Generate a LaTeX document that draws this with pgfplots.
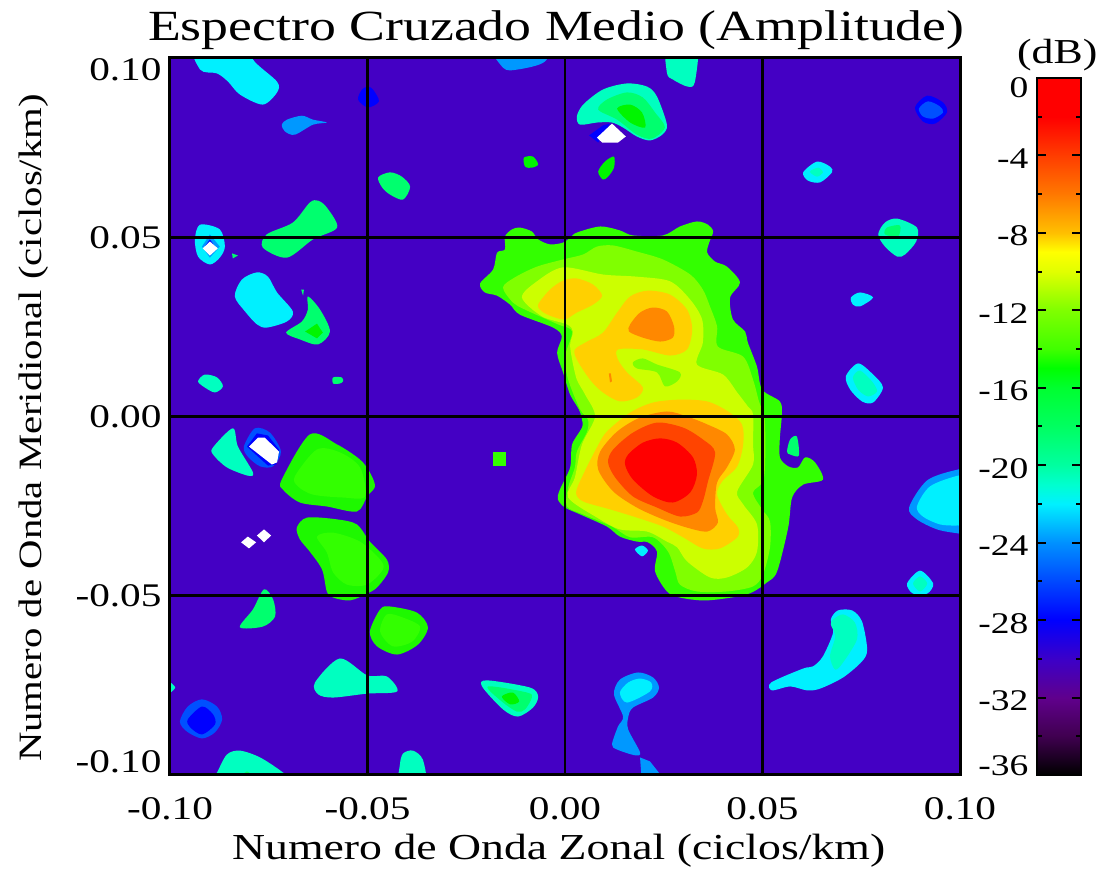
\documentclass[border=0pt]{standalone}
\usepackage{fontspec}
\setmainfont{Liberation Serif}[FakeStretch=1.25]
\usepackage{pgfplots}
\pgfplotsset{compat=1.18}

\definecolor{cBg}{RGB}{68,0,196}
\definecolor{cBlue}{RGB}{0,0,255}
\definecolor{cAzure}{RGB}{0,80,255}
\definecolor{cSky}{RGB}{0,152,255}
\definecolor{cCyan}{RGB}{0,240,255}
\definecolor{cAqua}{RGB}{0,255,192}
\definecolor{cSpring}{RGB}{0,255,110}
\definecolor{cGreen}{RGB}{0,245,0}
\definecolor{cGreenB}{RGB}{30,248,0}
\definecolor{cLime}{RGB}{51,255,0}
\definecolor{cChart}{RGB}{128,255,0}
\definecolor{cYell}{RGB}{204,255,0}
\definecolor{cGold}{RGB}{255,208,0}
\definecolor{cOrange}{RGB}{255,136,0}
\definecolor{cROrange}{RGB}{255,68,0}
\definecolor{cRed}{RGB}{255,0,0}

\pgfplotsset{
  blob/.style={fill=#1,draw=none,smooth cycle,tension=0.5,forget plot},
  poly/.style={fill=#1,draw=none,forget plot},
}
% tick label with its vertical offset from the tick
\newcommand{\tl}[2]{\raisebox{\dimexpr#1-11pt\relax}[0pt][0pt]{#2}}

\begin{document}
\begin{tikzpicture}
\path[use as bounding box] (0pt,0pt) rectangle (1104pt,869pt);

% contour map, coordinates in 10^-3 ciclos/km
\begin{axis}[
    at={(170pt,94pt)}, anchor=south west,
    scale only axis, width=790pt, height=717pt,
    xmin=-100, xmax=100, ymin=-100, ymax=100,
    xtick={-100,-50,0,50,100},
    ytick={-100,-50,0,50,100},
    xticklabels={-0.10,-0.05,0.00,0.05,0.10},
    yticklabels={\tl{13pt}{-0.10},\tl{0pt}{-0.05},\tl{0pt}{0.00},\tl{0pt}{0.05},\tl{-12pt}{0.10}},
    tick label style={font=\fontsize{33}{36}\selectfont},
    xticklabel style={yshift=-19pt},
    yticklabel style={xshift=-5pt},
    major tick length=0pt,
    grid=major,
    major grid style={black,line width=2.8pt},
    axis line style={black,line width=3pt},
    axis on top,
    axis background/.style={fill=cBg},
    title={Espectro Cruzado Medio (Amplitude)},
    title style={at={(axis description cs:0.489,1.03)},anchor=center,yshift=0pt,font=\fontsize{43}{46}\selectfont},
    xlabel={Numero de Onda Zonal (ciclos/km)},
    xlabel style={at={(axis description cs:0.492,-0.105)},anchor=center,font=\fontsize{36.6}{38}\selectfont},
    ylabel={Numero de Onda Meridional (ciclos/km)},
    ylabel style={at={(axis description cs:-0.173,0.484)},anchor=center,font=\fontsize{32.6}{36}\selectfont},
]
% central blob
\addplot[blob=cLime] coordinates {(-15.2,50.2)(-13.4,52.2)(-11.4,52.7)(-8.4,51.6)(-6.8,49.4)(-3.8,48.0)(-0.5,48.5)(1.3,49.9)(3.0,51.3)(8.9,53.0)(13.9,51.9)(17.2,50.5)(24.8,50.5)(29.1,53.0)(33.4,54.4)(36.2,53.5)(37.5,51.6)(36.5,48.5)(36.0,45.7)(38.0,43.2)(41.0,41.8)(44.3,37.4)(41.8,33.2)(42.5,27.1)(45.6,23.7)(46.3,20.6)(48.6,13.9)(49.9,7.5)(54.4,4.2)(54.9,0.6)(54.4,-5.9)(54.4,-11.4)(56.5,-13.9)(59.0,-14.2)(60.8,-11.4)(63.3,-12.8)(65.3,-17.6)(60.3,-19.0)(57.5,-22.6)(56.5,-31.0)(53.7,-43.2)(51.1,-46.3)(46.1,-49.6)(36.0,-51.3)(29.1,-50.5)(25.8,-48.8)(22.8,-43.2)(23.3,-37.7)(21.0,-35.1)(18.2,-34.9)(13.9,-33.5)(10.6,-30.7)(3.8,-27.3)(0,-25.4)(-1.8,-23.1)(-1.3,-20.4)(1.3,-14.2)(1.8,-7.8)(4.3,-3.1)(4.3,-0.8)(3.5,2.0)(1.3,6.1)(-0.5,12.3)(-2.0,17.8)(-0.8,22.3)(-3.0,24.8)(-11.4,28.4)(-13.9,31.2)(-17.2,33.7)(-20.3,34.6)(-21.5,37.1)(-18.2,41.0)(-17.2,45.7)(-15.2,46.6)};
\addplot[blob=cChart] coordinates {(-15.7,36.0)(-12.7,38.8)(-7.1,41.8)(-0.5,43.8)(4.6,45.2)(8.1,47.4)(12.2,47.7)(18.2,46.0)(24.8,43.8)(31.7,39.6)(34.9,35.4)(36.7,30.7)(38.5,25.1)(38.7,19.5)(45.1,16.7)(47.6,10.3)(49.1,4.2)(50.6,-1.4)(50.4,-17.0)(47.6,-21.2)(49.9,-25.9)(51.9,-29.3)(51.9,-36.5)(50.1,-44.1)(47.6,-47.4)(41.0,-48.8)(33.4,-48.8)(29.1,-46.9)(27.9,-43.2)(26.1,-37.7)(22.3,-33.7)(16.5,-33.7)(11.9,-30.7)(4.6,-27.3)(0.5,-25.1)(0.8,-19.8)(2.5,-14.2)(3.0,-9.8)(5.6,-4.2)(5.8,-0.8)(3.8,2.0)(0.8,10.3)(0,16.7)(1.8,23.7)(-1.8,25.7)(-10.1,29.8)(-13.2,31.8)};
\addplot[blob=cYell] coordinates {(-10.9,33.2)(-7.1,37.7)(-0.5,41.6)(9.6,39.6)(18.2,39.0)(26.6,37.7)(31.7,32.6)(34.7,27.1)(34.9,20.6)(33.4,14.5)(40.0,11.7)(43.6,6.7)(46.3,2.8)(47.6,0.6)(47.6,-7.8)(47.6,-13.4)(43.6,-20.9)(45.1,-24.5)(48.6,-30.1)(48.6,-37.7)(46.1,-42.1)(41.0,-44.9)(36.7,-44.9)(30.9,-40.4)(28.4,-36.5)(25.8,-34.9)(20.8,-32.1)(13.9,-31.5)(8.1,-28.2)(0.8,-22.6)(2.5,-17.0)(4.3,-7.8)(7.6,0)(5.1,6.1)(3.0,10.3)(1.8,15.9)(1.3,20.1)(2.0,23.7)(0.5,25.7)(-5.8,27.9)};
\addplot[blob=cChart] coordinates {(17.2,15.1)(19.7,16.2)(23.3,14.5)(29.1,12.3)(28.4,9.8)(25.3,8.4)(23.3,12.3)(18.2,13.4)};
\addplot[blob=cGold] coordinates {(-6.8,31.2)(-3.8,35.4)(-0.5,37.9)(3.0,38.5)(7.1,36.8)(9.4,33.7)(7.1,31.2)(3.0,29.0)(0,27.1)(-3.3,27.9)(-5.8,29.3)};
\addplot[blob=cGold] coordinates {(21.0,35.1)(26.6,34.0)(30.9,29.8)(32.2,24.3)(30.9,18.7)(26.6,17.0)(19.7,18.7)(13.4,18.7)(13.4,15.9)(15.7,12.3)(19.7,8.1)(18.2,5.3)(13.9,4.2)(9.6,6.7)(6.3,10.3)(3.0,15.9)(2.5,18.7)(5.6,20.9)(9.6,23.4)(13.2,29.0)(16.5,33.5)};
\addplot[blob=cOrange] coordinates {(16.5,25.7)(19.0,29.0)(22.3,30.4)(25.8,29.3)(27.6,25.1)(27.3,22.0)(24.1,20.9)(19.7,22.0)(16.2,23.7)};
\addplot[poly=cOrange] coordinates {(11.1,12.0)(11.6,12.0)(11.9,9.8)(11.4,9.5)} --cycle;
\addplot[blob=cGold] coordinates {(16.5,1.1)(22.3,3.9)(29.1,4.7)(36.0,4.2)(41.3,1.4)(44.8,-2.2)(45.1,-7.8)(43.6,-13.9)(39.8,-18.1)(38.5,-21.8)(41.0,-27.3)(43.8,-31.0)(43.6,-33.7)(39.2,-36.8)(34.9,-36.8)(29.9,-33.7)(24.8,-30.7)(18.2,-28.2)(11.4,-25.9)(4.6,-23.7)(2.8,-21.2)(4.6,-16.2)(8.1,-8.6)(10.6,-4.2)};
\addplot[blob=cOrange] coordinates {(13.2,-4.2)(19.0,-0.3)(25.8,1.4)(30.9,0)(36.0,-2.2)(41.0,-5.0)(43.0,-9.2)(41.0,-14.2)(38.5,-18.4)(38.0,-25.4)(38.7,-29.6)(36.0,-32.1)(30.9,-31.0)(24.8,-28.7)(18.2,-25.4)(12.2,-20.9)(8.4,-14.8)(8.9,-9.8)};
\addplot[blob=cROrange] coordinates {(12.2,-9.2)(17.2,-4.5)(23.3,-1.7)(29.9,-3.1)(34.9,-6.4)(38.0,-10.0)(36.2,-18.1)(34.9,-23.7)(33.4,-26.8)(29.1,-27.9)(23.3,-25.4)(17.2,-22.3)(12.7,-17.0)(10.9,-12.8)};
\addplot[blob=cRed] coordinates {(16.0,-10.6)(19.7,-7.3)(24.1,-6.1)(28.4,-7.3)(32.4,-11.4)(33.4,-16.2)(31.7,-21.2)(27.3,-24.0)(22.3,-22.3)(17.2,-17.6)(15.2,-13.4)};
\addplot[blob=cCyan] coordinates {(17.7,-37.1)(19.5,-36.0)(21.0,-37.4)(19.5,-39.0)};
\addplot[blob=cSpring] coordinates {(56.2,-9.8)(57.0,-6.4)(58.7,-5.6)(59.2,-10.9)(57.0,-10.6)};
% upper left
\addplot[blob=cCyan] coordinates {(-94.2,105)(-92.4,96.8)(-88.1,95.7)(-85.3,93.4)(-82.3,89.8)(-76.5,87.0)(-72.9,90.4)(-72.9,93.4)(-79.0,99.6)(-79.0,105)};
\addplot[blob=cSky] coordinates {(-71.7,81.4)(-70.4,82.8)(-66.6,83.9)(-63.8,82.8)(-60.3,82.0)(-63.8,81.4)(-68.4,78.6)(-70.9,79.5)};
\addplot[blob=cBlue] coordinates {(-52.4,88.4)(-51.4,91.2)(-49.9,92.0)(-48.6,91.2)(-47.1,87.9)(-49.9,86.2)};
\addplot[blob=cSpring] coordinates {(-47.3,66.7)(-44.3,68.1)(-41.3,66.9)(-39.2,64.1)(-41.0,60.5)(-44.3,61.9)(-46.3,63.9)};
\addplot[blob=cSpring] coordinates {(-64.6,59.7)(-62.5,60.2)(-60.3,58.3)(-57.7,52.7)(-63.8,49.4)(-70.4,44.3)(-76.5,47.1)(-75.5,50.8)(-68.9,54.1)};
\addplot[blob=cCyan] coordinates {(-93.7,49.4)(-92.4,53.5)(-87.4,52.2)(-86.1,47.4)(-87.4,44.3)(-89.9,42.4)(-92.9,44.6)};
\addplot[poly=cSky] coordinates {(-91.9,47.4)(-89.9,50.8)(-87.4,47.4)(-89.9,44.3)} --cycle;
\addplot[poly=cBlue] coordinates {(-91.2,47.4)(-89.9,49.4)(-88.6,47.4)(-89.9,45.2)} --cycle;
\addplot[poly=white] coordinates {(-91.7,46.9)(-89.9,48.8)(-87.9,46.9)(-89.9,44.9)} --cycle;
\addplot[poly=cSpring] coordinates {(-84.3,45.5)(-82.8,44.9)(-84.1,44.1)} --cycle;
\addplot[blob=cCyan] coordinates {(-83.6,33.5)(-81.8,38.2)(-78.0,40.2)(-75.2,39.0)(-72.9,34.6)(-68.9,29.3)(-70.4,26.5)(-75.5,24.8)(-78.0,25.7)(-81.0,29.3)};
\addplot[poly=cSpring] coordinates {(-66.8,35.4)(-66.1,35.4)(-66.3,33.7)} --cycle;
\addplot[blob=cSpring] coordinates {(-65.1,33.5)(-62.0,29.8)(-59.5,23.7)(-62.5,20.1)(-67.1,21.5)(-70.6,23.4)(-66.6,26.5)(-65.1,29.8)};
\addplot[poly=cGreen] coordinates {(-65.8,23.7)(-62.8,25.9)(-61.3,23.4)(-62.8,21.8)} --cycle;
\addplot[blob=cAqua] coordinates {(-92.9,9.8)(-91.2,11.7)(-88.1,10.9)(-86.6,8.4)(-88.6,6.7)(-91.2,8.1)};
\addplot[blob=cSpring] coordinates {(-58.7,10.9)(-56.5,10.9)(-56.2,9.8)(-57.0,9.2)(-58.7,9.2)};
% lower left
\addplot[blob=cAqua] coordinates {(-89.1,-8.6)(-84.1,-3.3)(-82.8,-8.4)(-79.0,-15.6)(-80.3,-16.5)(-85.6,-14.2)(-89.1,-10.6)};
\addplot[blob=cAzure] coordinates {(-81.3,-8.4)(-78.5,-3.3)(-74.7,-4.5)(-71.9,-9.8)(-73.9,-13.9)(-77.2,-13.9)(-80.3,-11.2)};
\addplot[poly=cBlue] coordinates {(-80.5,-8.4)(-78.0,-4.7)(-75.2,-5.3)(-72.4,-9.2)(-73.1,-13.4)(-75.2,-13.7)} --cycle;
\addplot[poly=white] coordinates {(-80.0,-8.4)(-77.7,-5.9)(-76.0,-5.9)(-72.4,-9.8)(-72.9,-12.8)(-74.2,-13.4)} --cycle;
\addplot[poly=white] coordinates {(-82.0,-35.1)(-80.3,-33.5)(-78.2,-35.1)(-80.0,-36.8)} --cycle;
\addplot[poly=white] coordinates {(-78.0,-33.2)(-76.2,-31.5)(-74.4,-33.2)(-76.2,-35.1)} --cycle;
\addplot[blob=cGreenB] coordinates {(-71.7,-17.6)(-64.6,-5.0)(-57.7,-7.8)(-51.9,-12.0)(-49.4,-15.6)(-48.1,-19.5)(-50.1,-22.3)(-52.7,-26.5)(-60.3,-25.1)(-67.1,-24.0)(-71.4,-20.4)};
\addplot[blob=cLime] coordinates {(-68.4,-16.7)(-62.8,-9.2)(-57.0,-10.0)(-51.9,-14.2)(-50.6,-22.3)(-56.2,-22.6)(-63.8,-21.8)(-67.6,-19.5)};
\addplot[blob=cGreenB] coordinates {(-67.9,-31.0)(-65.3,-28.2)(-57.7,-28.7)(-52.7,-30.1)(-49.4,-34.9)(-45.1,-39.9)(-44.8,-43.5)(-47.6,-47.7)(-50.1,-49.4)(-54.4,-51.3)(-58.7,-50.5)(-60.3,-48.8)(-61.5,-42.7)(-64.6,-37.7)(-67.1,-34.3)};
\addplot[blob=cLime] coordinates {(-62.8,-33.5)(-58.7,-32.4)(-51.9,-34.9)(-46.8,-39.9)(-46.1,-42.7)(-50.1,-46.9)(-55.2,-46.9)(-58.7,-43.5)(-60.3,-37.9)};
\addplot[blob=cSpring] coordinates {(-76.2,-48.2)(-73.9,-51.0)(-73.4,-55.8)(-76.5,-58.6)(-82.3,-58.8)(-79.0,-53.8)};
\addplot[blob=cGreenB] coordinates {(-49.4,-60.0)(-46.8,-53.8)(-44.3,-53.0)(-37.5,-54.7)(-34.7,-58.8)(-37.2,-63.6)(-42.5,-66.4)(-47.6,-64.1)};
\addplot[blob=cLime] coordinates {(-46.8,-60.0)(-45.1,-55.2)(-41.0,-56.1)(-36.7,-58.6)(-38.7,-62.8)(-43.6,-64.1)};
\addplot[blob=cAqua] coordinates {(-63.3,-74.2)(-57.0,-67.5)(-50.1,-72.2)(-45.1,-72.5)(-42.5,-76.7)(-50.1,-77.3)(-58.7,-78.4)(-62.5,-77.5)};
\addplot[blob=cAqua] coordinates {(-102.5,-72.8)(-98.7,-75.6)(-102.5,-78.4)};
\addplot[blob=cAzure] coordinates {(-97.5,-85.1)(-95.5,-80.9)(-91.9,-78.9)(-88.1,-80.9)(-86.8,-84.5)(-88.6,-88.1)(-91.9,-89.8)(-95.7,-87.9)};
\addplot[blob=cBlue] coordinates {(-95.5,-84.5)(-91.9,-80.9)(-89.1,-83.1)(-88.6,-85.9)(-91.9,-88.7)(-94.9,-86.7)};
\addplot[blob=cAqua] coordinates {(-89.9,-102.6)(-88.1,-99.3)(-85.6,-94.3)(-82.3,-93.2)(-77.2,-95.1)(-71.4,-99.3)(-68.4,-102.6)};
\addplot[poly=cSpring] coordinates {(-82.3,-100.1)(-80.5,-99)(-78.7,-100.1)} --cycle;
\addplot[blob=cAqua] coordinates {(-41.8,-102.6)(-41.8,-97.1)(-41.0,-94.0)(-38.5,-93.2)(-36.0,-95.7)(-35.4,-102.6)};
% top centre
\addplot[blob=cSky] coordinates {(-19.0,105)(-15.7,97.3)(-11.9,96.8)(-5.1,99.0)(-3.8,105)};
\addplot[blob=cAqua] coordinates {(25.8,105)(25.8,95.9)(27.3,94.0)(31.1,92.0)(32.9,93.4)(33.4,105)};
\addplot[blob=cAqua] coordinates {(3.0,83.7)(4.6,87.0)(9.6,91.2)(15.7,92.9)(20.8,92.0)(23.3,89.2)(25.8,81.4)(24.6,78.6)(21.5,77.0)(18.2,78.1)(14.7,80.6)(11.9,82.0)(8.1,82.0)(3.8,81.4)};
\addplot[blob=cSpring] coordinates {(8.4,85.6)(10.6,88.4)(15.7,90.4)(19.7,89.0)(22.8,84.8)(25.3,80.6)(22.0,77.5)(18.2,78.6)(13.2,82.8)};
\addplot[blob=cGreen] coordinates {(13.2,85.9)(16.5,87.0)(19.5,84.8)(20.3,80.6)(16.5,82.0)};
\addplot[poly=cBlue] coordinates {(6.1,78.4)(9.6,81.2)(11.4,81.7)(8.4,76.4)} --cycle;
\addplot[poly=white] coordinates {(8.1,77.8)(11.9,81.7)(15.4,78.1)(13.4,76.4)(9.4,76.4)} --cycle;
\addplot[blob=cGreen] coordinates {(-10.4,72.2)(-8.1,72.5)(-6.8,70.3)(-8.4,69.4)(-10.1,69.7)};
\addplot[blob=cGreen] coordinates {(8.4,68.3)(10.1,71.1)(12.4,72.5)(12.4,69.4)(10.9,66.9)(9.6,66.1)};
\addplot[poly=cLime] coordinates {(-18.2,-9.8)(-14.9,-9.8)(-14.9,-13.7)(-18.2,-13.7)} --cycle;
% right side
\addplot[blob=cBlue] coordinates {(88.6,86.2)(91.7,89.5)(95.7,87.6)(96.7,84.8)(93.7,81.7)(90.6,82.3)};
\addplot[blob=cAzure] coordinates {(89.6,85.9)(91.9,87.9)(94.9,86.5)(95.7,84.8)(93.2,83.1)(90.6,83.7)};
\addplot[blob=cCyan] coordinates {(60.3,68.1)(63.8,71.1)(67.1,69.7)(67.6,68.1)(64.6,65.3)(61.5,65.8)};
\addplot[blob=cAqua] coordinates {(62.0,68.3)(64.1,69.4)(65.3,68.1)(63.8,66.9)};
\addplot[blob=cAqua] coordinates {(79.3,50.8)(81.0,54.1)(84.1,55.2)(89.1,52.7)(88.9,48.8)(86.1,45.2)(84.1,44.6)(81.0,47.4)};
\addplot[blob=cSpring] coordinates {(81.0,50.8)(81.5,52.7)(84.8,53.3)(84.3,50.2)};
\addplot[blob=cCyan] coordinates {(72.4,33.2)(74.7,34.6)(78.0,33.2)(74.7,30.7)(72.9,31.2)};
\addplot[blob=cCyan] coordinates {(71.1,11.2)(74.2,14.8)(78.0,11.7)(80.5,8.1)(78.0,3.9)(75.2,4.2)(72.2,7.5)};
\addplot[blob=cAqua] coordinates {(72.9,10.9)(74.7,12.8)(77.7,9.8)(79.0,7.0)(76.7,5.6)(74.2,7.5)};
\addplot[blob=cSky] coordinates {(87.1,-25.4)(91.7,-17.8)(99.5,-14.8)(103.8,-14.8)(103.8,-32.9)(99.5,-32.6)(94.2,-31.5)(89.1,-28.7)};
\addplot[blob=cCyan] coordinates {(89.1,-25.1)(92.4,-19.5)(99.5,-16.5)(103.8,-16.5)(103.8,-29.8)(99.5,-30.4)(94.9,-30.1)(90.6,-27.9)};
\addplot[blob=cCyan] coordinates {(86.6,-46.6)(89.9,-43.0)(93.2,-46.6)(91.7,-49.4)(88.1,-49.4)};
\addplot[blob=cAqua] coordinates {(88.1,-46.6)(89.9,-44.6)(91.7,-46.6)(89.9,-48.8)};
% bottom centre and right
\addplot[blob=cSky] coordinates {(12.4,-77.5)(13.9,-73.4)(18.5,-71.4)(22.3,-72.8)(23.8,-75.6)(22.3,-78.4)(17.2,-81.2)(16.0,-83.9)(16.0,-87.3)(19.0,-93.7)(17.7,-94.5)(13.2,-92.9)(11.9,-91.5)(13.4,-86.5)(14.7,-83.7)};
\addplot[blob=cCyan] coordinates {(13.9,-77.0)(16.0,-74.2)(19.0,-73.1)(21.8,-74.2)(21.5,-76.7)(15.7,-79.8)};
\addplot[poly=cSky] coordinates {(19.0,-95.1)(21.5,-96.2)(26.1,-102.6)(19.5,-102.6)} --cycle;
\addplot[blob=cCyan] coordinates {(52.2,-74.2)(60.3,-70.3)(62.8,-69.7)(65.3,-66.9)(67.9,-60.2)(67.3,-56.6)(69.1,-54.1)(72.7,-54.1)(75.2,-57.2)(76.5,-65.0)(75.2,-68.3)(70.4,-72.8)(64.6,-75.9)(61.3,-76.4)(57.0,-75.3)(52.4,-76.4)};
\addplot[blob=cAqua] coordinates {(67.9,-56.6)(70.4,-55.2)(73.4,-57.5)(73.9,-62.2)(70.4,-68.6)(68.4,-70.6)(67.1,-66.9)(68.4,-61.4)(67.3,-58.0)};
\addplot[blob=cAqua] coordinates {(-21.0,-75.3)(-19.7,-73.6)(-8.9,-75.6)(-6.8,-78.1)(-8.1,-81.2)(-11.9,-83.7)(-15.7,-81.7)};
\addplot[blob=cSpring] coordinates {(-19.5,-75.3)(-9.6,-77.0)(-8.4,-78.4)(-10.1,-81.7)(-12.2,-82.3)(-16.0,-79.5)};
\addplot[blob=cGreen] coordinates {(-16.0,-78.1)(-13.2,-77.0)(-11.6,-79.5)(-13.9,-80.3)};
\end{axis}

% colour bar
\begin{axis}[
    at={(1037pt,94pt)}, anchor=south west,
    scale only axis, width=44pt, height=697pt,
    xmin=0, xmax=1, ymin=-36, ymax=0,
    xtick=\empty,
    ytick={-36,-32,-28,-24,-20,-16,-12,-8,-4,0},
    yticklabels={\tl{10pt}{-36},\tl{-2pt}{-32},\tl{-2pt}{-28},\tl{-2pt}{-24},\tl{-2pt}{-20},\tl{-2pt}{-16},\tl{-2pt}{-12},\tl{-2pt}{-8},\tl{-2pt}{-4},\tl{-9pt}{0}},
    minor ytick={-34,-30,-26,-22,-18,-14,-10,-6,-2},
    tick label style={font=\fontsize{30}{34}\selectfont},
    yticklabel style={xshift=-5pt},
    ytick pos=both, yticklabel pos=left,
    tick align=inside,
    major tick length=9pt, minor tick length=5pt,
    tick style={black,line width=2pt},
    axis line style={black,line width=2.6pt},
    axis on top,
    title={(dB)},
    title style={at={(axis description cs:0.46,1.024)},anchor=center,yshift=0pt,font=\fontsize{35}{38}\selectfont},
    colormap={idl}{
      rgb255(0)=(0,0,0) rgb255(2)=(64,0,80) rgb255(4)=(96,0,140) rgb255(6)=(60,0,200)
      rgb255(8)=(0,0,255) rgb255(12)=(0,144,255) rgb255(14)=(0,240,255) rgb255(15)=(0,255,208)
      rgb255(16)=(0,255,160) rgb255(18)=(0,255,96) rgb255(20)=(0,255,48) rgb255(21)=(0,255,0)
      rgb255(22)=(64,255,0) rgb255(24)=(128,255,0) rgb255(26)=(224,255,0) rgb255(27)=(255,255,0)
      rgb255(28)=(255,192,0) rgb255(30)=(255,120,0) rgb255(32)=(255,60,0) rgb255(34)=(255,0,0)
      rgb255(36)=(255,0,0)
    },
]
\addplot[surf,shader=interp,point meta=y,point meta min=-36,point meta max=0,mesh/cols=2] coordinates {
(0,-36)(1,-36)(0,-34)(1,-34)(0,-32)(1,-32)(0,-30)(1,-30)(0,-28)(1,-28)(0,-24)(1,-24)
(0,-22)(1,-22)(0,-21)(1,-21)(0,-20)(1,-20)(0,-18)(1,-18)(0,-16)(1,-16)(0,-15)(1,-15)
(0,-14)(1,-14)(0,-12)(1,-12)(0,-10)(1,-10)(0,-9)(1,-9)(0,-8)(1,-8)(0,-6)(1,-6)
(0,-4)(1,-4)(0,-2)(1,-2)(0,0)(1,0)
};
\end{axis}
\end{tikzpicture}
\end{document}
